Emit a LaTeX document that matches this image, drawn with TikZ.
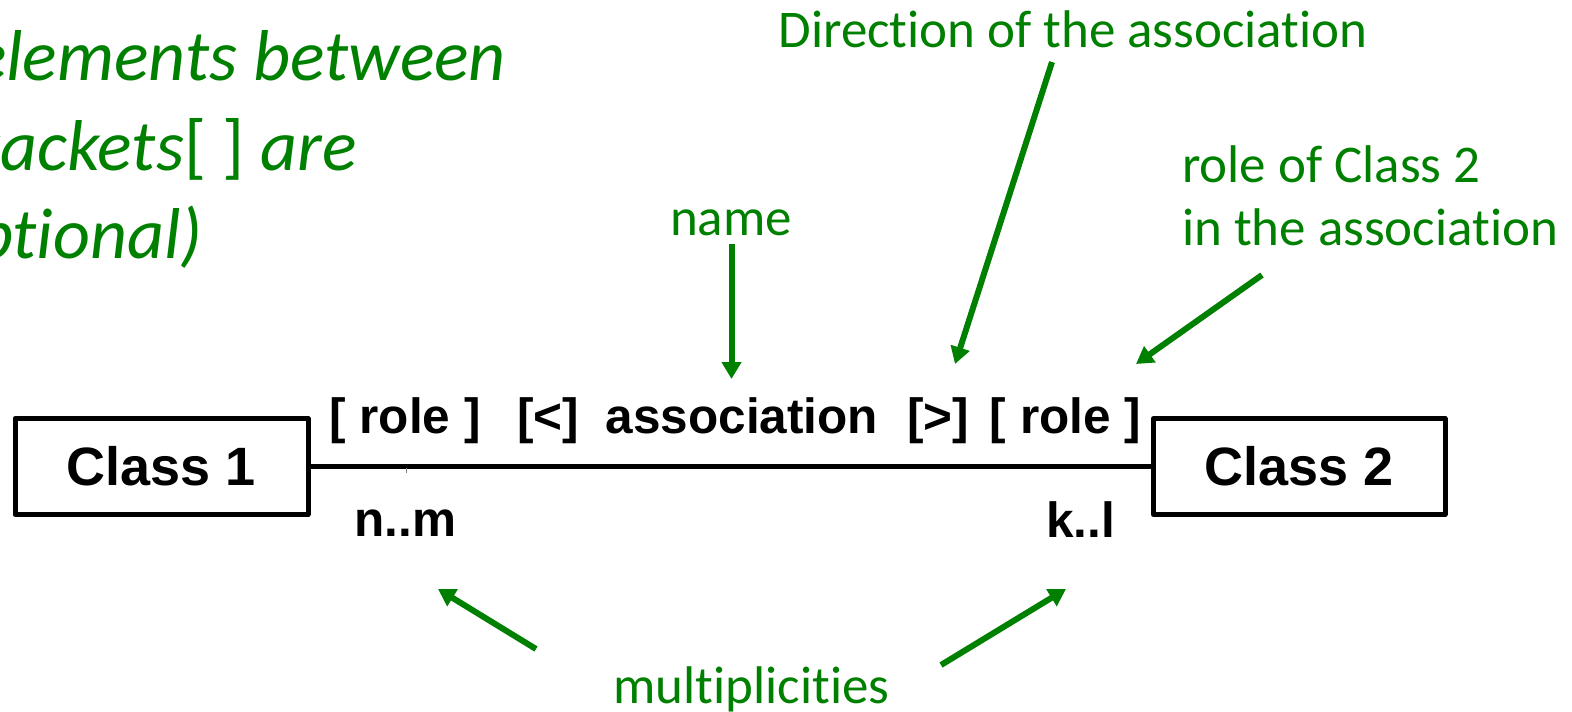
\documentclass[tikz,border=0pt]{standalone}
\usepackage{fontspec}
\setmainfont{Liberation Sans}
\newfontfamily\califont{Carlito}
\usetikzlibrary{arrows.meta}
\definecolor{notegreen}{RGB}{0,128,0}
% keeps t and i apart as two separate letters
\newcommand\tisplit{\kern0pt{}}
\begin{document}
\begin{tikzpicture}[x=1pt,y=-1pt,
  classbox/.style={draw=black, line width=5pt, line join=round, minimum width=293pt,
    minimum height=96pt, inner sep=0pt, font=\bfseries\fontsize{54}{60}\selectfont},
  assoclabel/.style={inner sep=0pt, anchor=base, font=\bfseries\fontsize{49.5}{58}\selectfont},
  note/.style={inner sep=0pt, text=notegreen, font=\califont\fontsize{53}{64}\selectfont},
  hint/.style={inner sep=0pt, anchor=base east, text=notegreen,
    font=\califont\itshape\fontsize{72}{88}\selectfont},
  pointer/.style={draw=notegreen, line width=6pt, -{Triangle[length=17pt,width=19pt]}},
]
\useasboundingbox (0,0) rectangle (1572,712);
\clip (0,0) rectangle (1572,712);

% remark about optional parts, running off the left edge
\node[hint] (hint1) at (506,80) {(elements between};
\node[hint] (hint2) at (357,170) {brackets{\upshape[ ]} are};
\node[hint] (hint3) at (203,258) {opt\tisplit ional)};

% the two classes and the association line
\node[classbox] (c1) at (161.5,466.5) {Class 1};
\node[classbox, minimum width=291.5pt] (c2) at (1299.25,466.5) {Class 2};
\draw[line width=5pt] (c1.east) -- (c2.west);
\draw[gray, line width=1pt] (406,468) -- (406,473);

% association adornments
\node[assoclabel] (role1) at (405,433) {[ role ]};
\node[assoclabel] (dirl) at (548,433) {[<]};
\node[assoclabel] (assoc) at (742,433) {association};
\node[assoclabel] (dirr) at (938,433) {[>]};
\node[assoclabel] (role2) at (1065.5,433) {[ role ]};
\node[assoclabel] (mult1) at (405.5,536) {n..m};
\node[assoclabel] (mult2) at (1080.5,537) {k..l};

% explanatory notes
\node[note, anchor=base] (dirnote) at (1073,47) {Direct\tisplit ion of the associat\tisplit ion};
\node[note, anchor=base] (namenote) at (731,235) {name};
\node[note, anchor=base west] (rolenote1) at (1182,182) {role of Class 2};
\node[note, anchor=base west] (rolenote2) at (1182,245) {in the associat\tisplit ion};
\node[note, anchor=base] (multnote) at (751.5,703) {mult\tisplit iplicit\tisplit ies};

% pointers from the notes
\coordinate (dirTail) at (1052,62);
\coordinate (dirTip) at (955,364);
\coordinate (nameTail) at (731.5,244);
\coordinate (nameTip) at (731.5,379);
\coordinate (roleTail) at (1262,275);
\coordinate (roleTip) at (1136,364);
\coordinate (multTailL) at (536,649);
\coordinate (multTipL) at (438,589);
\coordinate (multTailR) at (941,665);
\coordinate (multTipR) at (1066,589);
\draw[pointer] (dirTail) -- (dirTip);
\draw[pointer] (nameTail) -- (nameTip);
\draw[pointer] (roleTail) -- (roleTip);
\draw[pointer] (multTailL) -- (multTipL);
\draw[pointer] (multTailR) -- (multTipR);
\end{tikzpicture}
\end{document}
